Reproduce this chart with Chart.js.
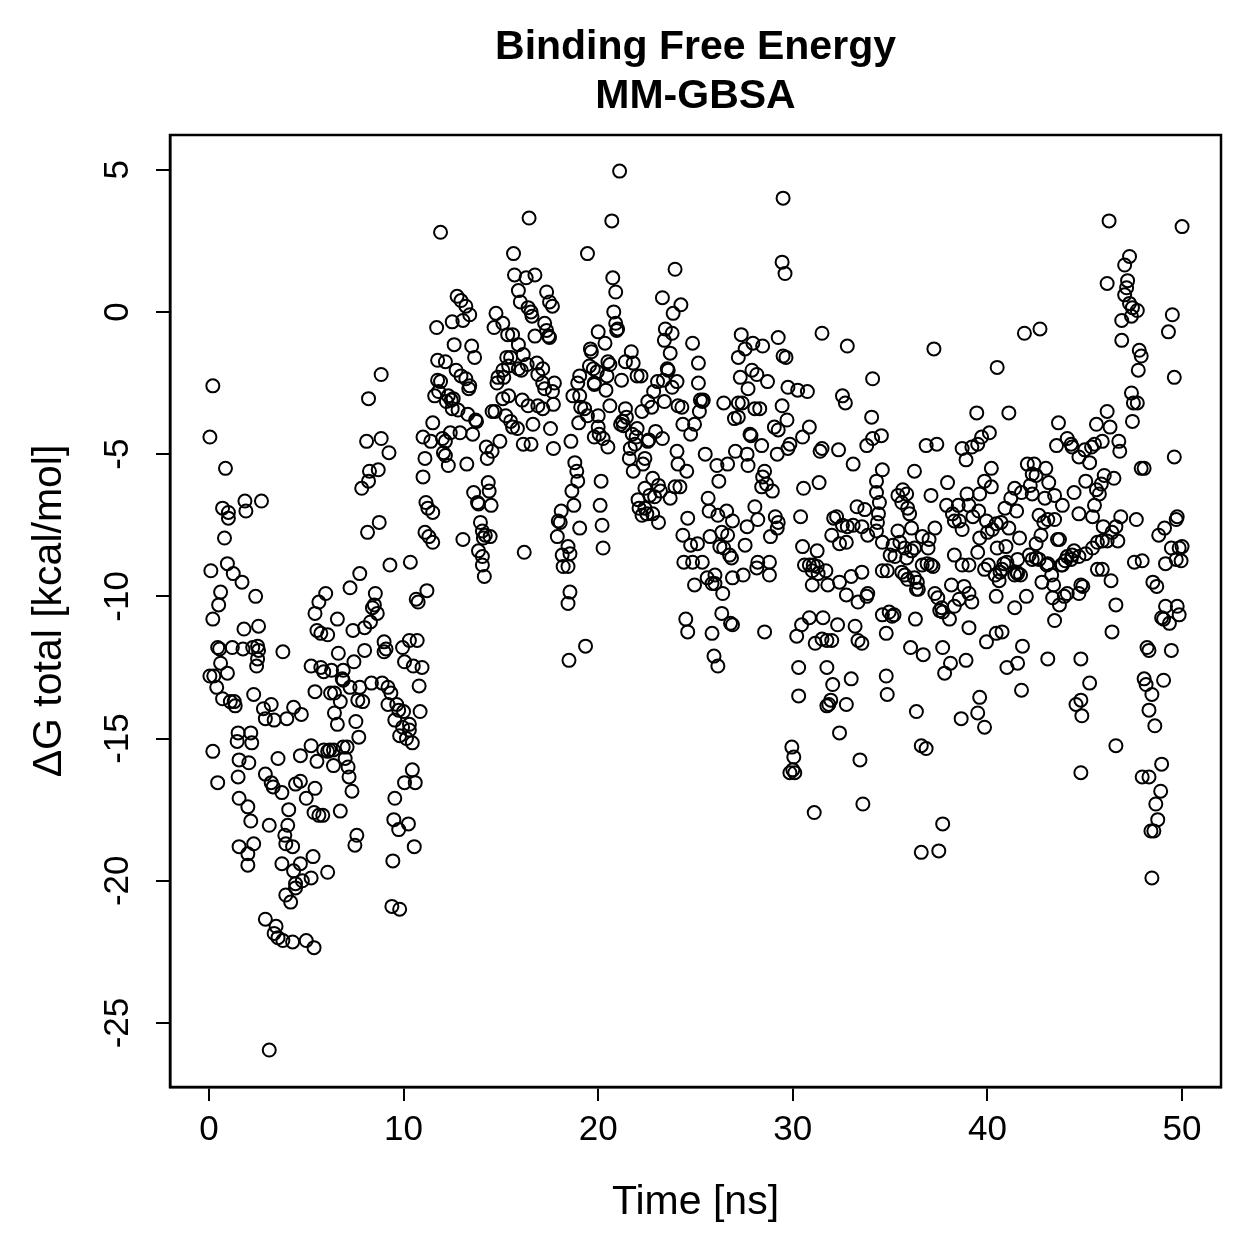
<!DOCTYPE html>
<html>
<head>
<meta charset="utf-8">
<script src="https://cdn.jsdelivr.net/npm/chart.js@4.4.0/dist/chart.umd.min.js"></script>
<style>
  html, body { margin: 0; padding: 0; background: #fff; }
  #wrap { width: 1259px; height: 1259px; }
</style>
</head>
<body>
<div id="wrap"><canvas id="chart" width="1259" height="1259"></canvas></div>
<script>
// axis ticks
const xTicks = [0, 10, 20, 30, 40, 50];
const yTicks = [5, 0, -5, -10, -15, -20, -25];

// [time ns, dG total kcal/mol], grouped by time window
const pts0to10 = [
  [0.2,-2.6],[0.05,-4.4],[0.85,-5.5],[0.7,-6.9],[1.0,-7.05],[1.0,-7.25],[1.85,-6.65],[1.9,-7.0],[2.7,-6.65],[0.8,-7.95],
  [0.1,-9.1],[0.95,-8.85],[1.25,-9.2],[1.7,-9.5],[2.4,-10.0],[0.6,-9.85],[0.5,-10.3],[0.2,-10.8],[1.8,-11.15],[2.55,-11.05],
  [0.45,-11.8],[0.55,-11.85],[1.2,-11.8],[1.75,-11.85],[2.25,-11.8],[2.5,-11.75],[2.55,-11.9],[3.8,-11.95],[0.6,-12.35],[0.95,-12.7],
  [2.5,-12.2],[2.45,-12.45],[0.05,-12.8],[0.25,-12.8],[0.4,-13.2],[2.3,-13.45],[0.7,-13.6],[1.3,-13.7],[1.35,-13.85],[1.1,-13.7],
  [3.2,-13.8],[2.8,-13.95],[2.9,-14.3],[3.35,-14.35],[4.0,-14.3],[4.35,-13.9],[4.75,-14.15],[1.5,-14.8],[1.45,-15.1],[2.15,-14.8],
  [2.2,-15.15],[0.2,-15.45],[3.55,-15.7],[4.7,-15.6],[1.55,-15.75],[2.05,-15.85],[0.45,-16.55],[1.5,-16.35],[2.9,-16.25],[3.2,-16.55],
  [3.3,-16.7],[3.75,-16.9],[4.45,-16.6],[4.7,-16.5],[5.0,-17.1],[1.55,-17.1],[2.0,-17.4],[2.15,-17.9],[4.1,-17.5],[4.05,-18.05],
  [3.95,-18.7],[4.3,-18.8],[3.1,-18.05],[1.55,-18.8],[2.0,-19.05],[2.3,-18.7],[3.9,-18.4],[3.75,-19.4],[4.7,-19.4],[4.35,-19.65],
  [4.45,-20.1],[4.8,-20.0],[5.25,-19.9],[2.0,-19.45],[3.95,-20.5],[4.2,-20.75],[4.45,-20.25],[2.9,-21.35],[3.45,-21.6],[3.35,-21.85],
  [3.55,-22.0],[3.8,-22.1],[4.3,-22.15],[5.0,-22.1],[3.1,-25.95],
  [9.3,-8.9],[7.75,-9.2],[7.25,-9.7],[6.0,-9.9],[5.65,-10.2],[5.45,-10.6],[6.6,-10.8],[8.55,-9.9],[8.5,-10.3],[8.4,-10.4],
  [8.65,-10.6],[8.3,-10.9],[8.0,-11.1],[7.4,-11.2],[5.55,-11.2],[5.75,-11.3],[6.1,-11.35],[9.0,-11.6],[9.1,-11.85],[9.0,-11.95],
  [9.95,-11.8],[6.65,-12.0],[8.0,-11.9],[7.45,-12.3],[5.25,-12.45],[5.75,-12.5],[5.9,-12.65],[6.3,-12.6],[6.9,-12.6],[6.85,-12.9],
  [6.9,-12.95],[7.25,-13.2],[7.75,-13.2],[8.35,-13.05],[8.9,-13.05],[9.2,-13.2],[9.35,-13.4],[5.45,-13.35],[6.25,-13.4],[6.45,-13.4],
  [7.65,-13.65],[7.9,-13.7],[6.75,-13.7],[9.2,-13.8],[9.65,-13.8],[9.75,-14.0],[6.45,-14.1],[6.6,-14.5],[7.55,-14.4],[9.55,-14.35],
  [9.95,-14.6],[9.8,-14.9],[7.7,-14.95],[5.25,-15.25],[5.55,-15.8],[5.9,-15.4],[6.2,-15.4],[6.4,-15.4],[6.1,-15.45],[6.9,-15.3],
  [7.1,-15.3],[6.4,-15.95],[7.0,-15.7],[7.15,-16.0],[7.2,-16.35],[7.35,-16.85],[9.55,-17.1],[5.45,-16.75],[5.4,-17.6],[5.65,-17.7],
  [5.85,-17.7],[6.75,-17.55],[9.5,-17.85],[9.75,-18.2],[7.6,-18.4],[7.5,-18.75],[5.35,-19.15],[9.45,-19.3],[6.1,-19.7],[9.4,-20.9],
  [9.8,-21.0],[5.4,-22.35],
  [8.85,-2.2],[8.2,-3.05],[8.1,-4.55],[8.85,-4.45],[9.25,-4.95],[8.7,-5.55],[8.25,-5.6],[8.2,-5.95],[7.85,-6.2],[8.75,-7.4],[8.15,-7.75]
];

const pts10to20 = [
  [10.35,-8.8],[11.2,-9.8],[10.65,-10.1],[10.75,-10.2],[10.3,-11.55],[10.7,-11.55],[10.05,-12.3],[10.5,-12.45],[10.95,-12.5],[10.8,-13.15],
  [10.0,-14.05],[10.85,-14.05],[10.3,-14.5],[10.3,-14.7],[10.15,-15.0],[10.45,-15.15],[10.45,-16.1],[10.05,-16.55],[10.6,-16.55],[10.25,-18.0],
  [10.55,-18.8],
  [16.45,3.3],[11.9,2.8],[15.65,2.05],[15.7,1.3],[16.3,1.2],[16.75,1.3],[15.9,0.75],[16.0,0.35],[17.35,0.7],[17.5,0.35],
  [17.65,0.2],[16.4,0.15],[16.55,0.0],[16.6,-0.15],[17.25,-0.4],[17.35,-0.65],[17.45,-0.85],[17.5,-0.9],[16.75,-0.85],[12.75,0.55],
  [12.95,0.4],[13.2,0.2],[13.4,-0.1],[13.05,-0.3],[12.5,-0.35],[11.7,-0.55],[14.75,-0.05],[15.1,-0.4],[14.65,-0.55],[15.35,-0.8],
  [15.6,-0.8],[12.6,-1.15],[13.5,-1.2],[13.65,-1.6],[15.9,-1.15],[16.15,-1.5],[11.75,-1.7],[12.15,-1.75],[15.3,-1.6],[15.5,-1.6],
  [15.4,-1.9],[16.85,-1.8],[17.15,-2.0],[16.9,-2.2],[12.7,-2.05],[12.95,-2.25],[13.2,-2.35],[13.4,-2.6],[13.35,-2.7],[11.75,-2.4],
  [11.9,-2.45],[11.6,-2.95],[11.8,-2.8],[15.1,-2.05],[14.85,-2.3],[14.8,-2.5],[15.15,-2.3],[15.9,-2.0],[16.05,-2.05],[16.35,-1.85],
  [17.15,-2.5],[17.25,-2.7],[17.75,-2.5],[17.65,-2.8],[12.3,-2.95],[12.45,-3.1],[12.55,-3.05],[12.2,-3.15],[12.5,-3.4],[12.8,-3.45],
  [13.3,-3.6],[13.7,-3.8],[15.1,-3.05],[15.4,-2.95],[16.1,-3.1],[16.4,-3.3],[16.9,-3.3],[17.15,-3.4],[17.7,-3.25],[14.55,-3.5],
  [14.7,-3.5],[15.25,-3.65],[15.5,-3.85],[15.6,-4.05],[15.85,-4.1],[16.65,-3.95],[17.55,-4.1],[11.5,-3.9],[11.0,-4.4],[11.4,-4.55],
  [12.0,-4.45],[12.15,-4.55],[12.4,-4.25],[12.9,-4.25],[13.55,-4.3],[13.75,-3.85],[12.05,-4.95],[12.15,-5.05],[12.3,-5.4],[13.25,-5.35],
  [11.1,-5.15],[14.25,-4.75],[14.55,-4.9],[14.95,-4.55],[14.3,-5.15],[16.15,-4.65],[16.55,-4.65],[17.7,-4.8],[11.0,-5.8],[13.6,-6.35],
  [13.8,-6.7],[13.85,-6.75],[14.35,-6.0],[14.4,-6.3],[14.5,-6.8],[11.15,-6.7],[11.25,-6.9],[11.5,-7.05],[18.1,-7.0],[17.95,-7.35],
  [18.05,-7.4],[17.9,-7.9],[11.1,-7.75],[11.3,-7.9],[11.5,-8.1],[13.05,-8.0],[13.95,-7.4],[14.05,-7.7],[14.2,-7.85],[14.45,-7.9],
  [14.1,-7.95],[13.85,-8.4],[14.05,-8.6],[14.05,-8.9],[14.15,-9.3],[16.2,-8.45],[18.15,-8.55],[18.2,-8.95],
  [19.45,2.05],[19.6,-1.3],[19.65,-1.4],[19.55,-1.9],[19.75,-2.0],[19.95,-2.1],[19.8,-2.5],[19.05,-2.25],[18.95,-2.5],[18.7,-2.95],
  [19.05,-2.95],[19.1,-3.35],[19.8,-2.55],[19.3,-3.4],[19.45,-3.65],[19.0,-3.9],[19.8,-4.4],[18.6,-4.55],[18.8,-5.3],[18.9,-5.6],
  [18.95,-5.95],[18.65,-6.3],[18.75,-6.8],[19.05,-7.6],[18.45,-8.25],[18.55,-8.5],[18.45,-8.95],[18.55,-9.85],[18.45,-10.25],[19.35,-11.75],
  [18.5,-12.25]
];

const pts20to30 = [
  [21.1,4.95],[20.7,3.2],[23.95,1.5],[20.75,1.2],[20.9,0.7],[23.3,0.5],[23.85,-0.05],[24.25,0.25],[20.8,0.0],[20.9,-0.4],
  [20.95,-0.65],[21.0,-0.6],[20.0,-0.7],[20.35,-1.1],[23.45,-0.6],[23.8,-0.75],[23.4,-1.0],[23.7,-1.45],[24.85,-1.1],[25.15,-1.8],
  [25.15,-2.5],[21.7,-1.4],[21.4,-1.75],[21.8,-1.8],[20.5,-1.75],[20.6,-1.85],[20.45,-2.25],[21.2,-2.4],[22.0,-2.25],[22.2,-2.25],
  [20.4,-2.75],[23.35,-2.4],[23.6,-2.05],[23.55,-2.0],[24.05,-2.45],[23.8,-2.65],[23.05,-2.45],[22.85,-2.8],[22.75,-3.35],[22.55,-3.15],
  [23.4,-3.15],[25.25,-3.1],[25.35,-3.15],[25.4,-3.1],[25.2,-3.5],[24.1,-3.3],[24.3,-3.35],[20.0,-3.65],[20.6,-3.3],[21.4,-3.4],
  [21.25,-3.85],[21.3,-4.0],[21.15,-3.95],[21.45,-3.7],[22.25,-3.5],[22.0,-4.1],[21.75,-4.3],[24.35,-3.95],[24.95,-3.95],[24.75,-4.3],
  [20.0,-4.05],[20.05,-4.3],[20.25,-4.45],[20.5,-4.75],[22.6,-4.5],[22.95,-4.2],[23.3,-4.45],[22.55,-4.55],[21.95,-4.4],[21.65,-4.8],
  [21.9,-4.65],[21.6,-5.15],[21.8,-5.6],[22.3,-5.35],[22.4,-5.15],[24.05,-4.9],[24.1,-5.35],[24.55,-5.6],[25.5,-5.0],[20.15,-5.95],
  [20.1,-6.8],[20.2,-7.5],[20.25,-8.3],[22.8,-5.85],[23.1,-6.1],[23.2,-6.3],[22.4,-6.2],[22.65,-6.45],[22.9,-6.5],[22.05,-6.6],
  [23.7,-6.55],[23.95,-6.15],[24.2,-6.15],[22.1,-6.9],[22.4,-6.9],[22.5,-7.1],[22.25,-7.15],[22.8,-7.1],[23.1,-7.4],[24.6,-7.25],
  [24.35,-7.85],[24.75,-8.2],[25.1,-8.15],[25.65,-6.55],[25.7,-7.0],[25.75,-7.9],[24.4,-8.8],[24.85,-8.8],[25.35,-8.8],[24.95,-9.6],
  [25.6,-9.35],[25.85,-9.55],[24.5,-10.8],[24.6,-11.25],[25.85,-11.3],[25.95,-12.1],[26.15,-12.45],
  [29.5,4.0],[29.45,1.75],[29.6,1.35],[27.35,-0.8],[27.55,-1.3],[27.2,-1.6],[27.95,-1.1],[28.45,-1.2],[29.25,-0.9],[29.5,-1.55],
  [29.65,-1.6],[27.3,-2.3],[27.9,-2.05],[28.15,-2.2],[28.7,-2.45],[27.7,-2.7],[29.75,-2.65],[26.45,-3.2],[27.2,-3.2],[27.4,-3.2],
  [28.05,-3.4],[28.3,-3.4],[29.45,-3.3],[27.0,-3.75],[27.2,-3.7],[29.05,-4.05],[29.25,-4.15],[29.7,-3.8],[27.8,-4.3],[27.85,-4.35],
  [29.85,-4.65],[29.75,-4.8],[27.05,-4.9],[27.65,-5.0],[28.4,-4.7],[29.2,-5.0],[27.7,-5.4],[26.65,-5.35],[26.1,-5.4],[26.2,-5.95],
  [28.55,-5.6],[28.45,-5.8],[28.65,-6.05],[28.4,-6.15],[28.95,-6.3],[28.05,-6.85],[26.6,-7.0],[26.9,-7.35],[27.65,-7.55],[28.2,-7.3],
  [29.1,-7.2],[29.25,-7.4],[29.2,-7.6],[28.85,-7.9],[26.15,-7.15],[26.35,-7.75],[26.65,-7.85],[26.25,-8.25],[26.45,-8.3],[26.75,-8.55],
  [26.85,-8.65],[27.55,-8.2],[28.2,-8.8],[28.8,-8.8],[28.15,-9.0],[28.8,-9.25],[27.45,-9.25],[26.9,-9.35],[26.0,-9.25],[26.0,-9.55],
  [26.4,-9.9],[26.35,-10.6],[26.8,-10.95],[26.9,-11.0],[28.55,-11.25],[29.95,-15.3],[29.85,-16.2]
];

const pts30to40 = [
  [31.5,-0.75],[32.8,-1.2],[30.25,-2.75],[30.75,-2.8],[32.55,-2.95],[32.7,-3.2],[34.1,-2.35],[30.85,-4.05],[30.5,-4.4],[31.5,-4.8],
  [31.4,-4.9],[32.35,-4.85],[34.05,-3.7],[34.1,-4.45],[33.8,-4.7],[33.1,-5.35],[30.55,-6.2],[31.35,-6.0],[30.4,-7.2],[33.3,-6.85],
  [33.7,-6.95],[32.1,-7.25],[32.25,-7.2],[32.55,-7.5],[32.8,-7.55],[33.1,-7.5],[33.55,-7.55],[33.85,-7.85],[32.0,-7.85],[32.4,-8.15],
  [32.75,-8.1],[30.5,-8.25],[31.25,-8.4],[30.6,-8.9],[30.85,-8.9],[31.05,-8.9],[31.0,-9.1],[31.25,-8.95],[31.7,-9.1],[31.3,-9.2],
  [33.55,-9.15],[33.0,-9.3],[32.4,-9.5],[31.8,-9.6],[32.75,-9.95],[31.0,-9.6],[33.35,-10.2],[33.8,-10.0],[33.85,-9.9],[30.45,-11.0],
  [30.85,-10.75],[31.55,-10.75],[32.3,-11.0],[30.2,-11.4],[31.15,-11.65],[31.5,-11.5],[31.75,-11.55],[32.0,-11.55],[33.2,-11.05],[33.35,-11.55],
  [33.55,-11.65],
  [37.25,-1.3],[39.45,-3.55],[34.55,-4.35],[36.85,-4.7],[37.4,-4.65],[38.7,-4.8],[39.2,-4.75],[39.5,-4.65],[38.9,-5.2],[34.6,-5.55],
  [34.3,-5.95],[34.3,-6.35],[34.45,-6.7],[34.4,-7.1],[34.35,-7.4],[36.25,-5.6],[37.95,-6.0],[37.1,-6.45],[35.4,-6.45],[35.65,-6.25],
  [35.85,-6.4],[35.6,-6.7],[35.9,-6.9],[36.0,-7.1],[37.9,-6.8],[38.2,-7.1],[38.5,-6.8],[38.95,-6.4],[39.05,-6.8],[39.25,-7.2],
  [38.3,-7.35],[38.55,-7.35],[38.7,-7.65],[39.6,-6.4],[39.55,-7.0],[34.3,-7.7],[34.6,-8.1],[35.4,-7.7],[36.1,-7.6],[36.25,-8.3],
  [36.1,-8.4],[36.65,-7.9],[37.0,-8.0],[37.3,-7.6],[36.95,-8.3],[35.15,-8.2],[35.5,-8.1],[35.75,-8.3],[35.0,-8.55],[35.25,-8.6],
  [35.85,-8.65],[38.3,-8.55],[38.7,-8.9],[39.05,-8.9],[39.5,-8.45],[36.65,-8.9],[36.9,-8.85],[37.1,-8.9],[37.2,-8.95],[34.6,-9.1],
  [34.85,-9.1],[35.6,-9.15],[35.75,-9.25],[35.9,-9.4],[36.25,-9.35],[36.4,-9.5],[36.45,-9.75],[36.35,-9.75],[37.3,-9.9],[37.45,-10.05],
  [37.65,-10.4],[37.55,-10.5],[37.7,-10.55],[38.05,-10.8],[38.15,-9.6],[38.55,-10.1],[38.8,-9.65],[39.2,-10.2],[39.05,-9.9],[38.3,-10.35],
  [34.6,-10.65],[34.95,-10.55],[35.2,-10.65],[35.1,-10.7],[36.3,-10.8],[34.8,-11.3],[39.05,-11.1],[36.05,-11.8],[36.7,-12.05],[37.7,-11.8],
  [38.1,-12.35],[37.8,-12.7],[38.9,-12.25],[34.8,-12.8],[34.85,-13.45],[39.6,-13.55],[39.5,-14.1],[36.35,-14.05],[38.65,-14.3],[36.6,-15.25],
  [36.85,-15.35],[37.7,-18.0],[36.6,-19.0],[37.5,-18.95],[33.6,-17.3],[30.3,-13.5],[30.3,-12.5],[31.75,-12.5],[31.75,-13.85],[31.85,-13.8],
  [31.95,-13.65],[32.75,-13.8],[33.0,-12.9],[32.05,-13.1],[32.4,-14.8],[30.05,-15.65],[30.0,-16.1],[30.1,-16.2],[33.45,-15.75],[31.1,-17.6],
  [39.7,-4.4],[39.85,-5.95],[39.95,-7.35],[39.6,-7.95],[39.85,-9.05],[39.95,-11.6],[39.85,-14.6]
];

const pts40to50 = [
  [41.9,-0.75],[42.7,-0.6],[40.5,-1.95],[41.1,-3.55],[43.65,-3.9],[43.55,-4.7],[44.1,-4.45],[44.3,-4.65],[44.35,-4.75],[40.1,-4.25],
  [40.2,-5.5],[40.2,-6.15],[42.05,-5.35],[42.4,-5.35],[43.0,-5.5],[42.3,-5.7],[42.5,-5.75],[43.15,-6.0],[43.45,-6.45],[43.85,-6.8],
  [44.45,-6.35],[41.4,-6.2],[41.75,-6.35],[42.2,-6.1],[42.3,-6.4],[42.95,-6.55],[40.9,-6.9],[41.2,-6.55],[41.5,-7.0],[40.25,-7.65],
  [40.0,-7.75],[40.45,-7.45],[41.1,-7.6],[41.65,-7.95],[40.7,-7.4],[42.65,-7.15],[42.9,-7.4],[43.1,-7.3],[43.45,-7.3],[42.75,-7.85],
  [42.5,-8.15],[42.15,-8.55],[42.3,-8.7],[43.6,-8.0],[43.7,-8.0],[40.5,-8.3],[40.95,-8.25],[40.85,-8.85],[41.5,-9.15],[41.4,-9.25],
  [41.55,-8.7],[42.5,-8.65],[42.65,-8.7],[43.05,-8.9],[43.1,-8.85],[42.8,-9.5],[43.3,-9.25],[43.4,-9.6],[43.35,-10.05],[43.7,-10.3],
  [43.8,-8.9],[44.0,-8.75],[44.1,-8.6],[44.35,-8.55],[44.3,-8.7],[43.85,-8.9],[44.45,-8.4],[44.1,-9.9],[43.95,-10.0],[40.05,-8.9],
  [40.4,-9.25],[40.75,-9.05],[40.65,-9.15],[41.0,-8.8],[41.55,-9.2],[41.7,-9.25],[40.45,-10.0],[40.6,-9.45],[42.0,-10.0],[41.4,-10.4],
  [43.45,-10.85],[40.45,-11.3],[40.75,-11.25],[41.8,-11.75],[41.0,-12.5],[41.55,-12.35],[43.1,-12.2],[44.55,-13.8],[41.75,-13.3],
  [46.25,3.2],[50.0,3.0],[47.3,1.95],[47.05,1.65],[46.15,1.0],[47.2,1.1],[47.15,0.85],[47.05,0.6],[47.3,0.3],[47.45,0.15],
  [47.7,0.05],[47.4,-0.15],[46.9,-0.3],[49.5,-0.1],[49.3,-0.7],[46.9,-1.0],[47.8,-1.35],[47.9,-1.55],[47.75,-2.05],[49.6,-2.3],
  [47.4,-2.85],[47.5,-3.2],[47.7,-3.2],[47.45,-3.85],[46.15,-3.5],[45.6,-3.95],[46.3,-4.05],[45.5,-4.65],[45.9,-4.55],[45.35,-4.75],
  [45.0,-4.85],[44.7,-5.1],[46.75,-4.55],[46.8,-4.9],[49.6,-5.1],[47.9,-5.5],[48.05,-5.5],[45.25,-5.3],[46.0,-5.75],[46.5,-5.85],
  [45.05,-5.95],[45.85,-6.05],[45.6,-6.25],[45.75,-6.4],[45.5,-6.8],[45.4,-7.2],[44.7,-7.1],[46.85,-7.2],[46.6,-7.55],[46.4,-7.75],
  [45.95,-7.55],[45.9,-8.05],[46.15,-8.05],[46.7,-8.05],[45.65,-8.1],[45.4,-8.3],[45.05,-8.5],[44.7,-8.6],[47.65,-7.3],[49.75,-7.2],
  [49.7,-7.3],[49.1,-7.6],[48.8,-7.85],[49.45,-8.3],[49.85,-8.3],[50.0,-8.25],[49.15,-8.85],[49.7,-8.7],[49.95,-8.75],[47.55,-8.8],
  [47.95,-8.75],[45.65,-9.05],[45.9,-9.05],[46.35,-9.45],[44.8,-9.6],[44.9,-9.65],[44.7,-9.9],[48.5,-9.5],[48.7,-9.65],[49.15,-10.35],
  [48.95,-10.75],[49.05,-10.8],[49.35,-10.95],[49.75,-10.35],[49.85,-10.65],[46.6,-10.3],[46.4,-11.25],[48.2,-11.8],[48.3,-11.9],[49.45,-11.9],
  [44.8,-12.2],[45.25,-13.05],[48.05,-12.9],[48.15,-13.1],[48.45,-13.45],[49.05,-12.95],[44.8,-13.65],[44.85,-14.2],[48.3,-14.0],[48.6,-14.55],
  [46.6,-15.25],[44.8,-16.2],[48.95,-15.9],[47.95,-16.35],[48.3,-16.35],[48.9,-16.85],[48.65,-17.3],[48.75,-17.85],[48.55,-18.25],[48.4,-18.25],
  [48.45,-19.9]
];

const allPoints = [].concat(pts0to10, pts10to20, pts20to30, pts30to40, pts40to50)
  .map(p => ({ x: p[0], y: p[1] }));

const FONT = '"Liberation Sans", Arial, Helvetica, sans-serif';

// R-style text: titles, rotated y labels and box
const rText = {
  id: 'rText',
  afterDraw(chart) {
    const ctx = chart.ctx;
    const a = chart.chartArea;
    const ys = chart.scales.y;
    const cx = (a.left + a.right) / 2;
    ctx.save();
    ctx.strokeStyle = '#000';
    ctx.lineWidth = 2.5;
    ctx.strokeRect(a.left, a.top, a.right - a.left, a.bottom - a.top);

    ctx.fillStyle = '#000';
    ctx.textAlign = 'center';
    ctx.textBaseline = 'middle';
    ctx.font = 'bold 41px ' + FONT;
    ctx.fillText('Binding Free Energy', cx, 48);
    ctx.fillText('MM-GBSA', cx, 97);

    ctx.font = '41px ' + FONT;
    ctx.fillText('Time [ns]', cx, 1203);

    ctx.save();
    ctx.translate(50, (a.top + a.bottom) / 2);
    ctx.rotate(-Math.PI / 2);
    ctx.fillText('\u0394G total [kcal/mol]', 0, 0);
    ctx.restore();

    ctx.font = '35px ' + FONT;
    yTicks.forEach(v => {
      const py = ys.getPixelForValue(v);
      ctx.save();
      ctx.translate(118, py);
      ctx.rotate(-Math.PI / 2);
      ctx.fillText(String(v), 0, 0);
      ctx.restore();
    });
    ctx.restore();
  }
};

new Chart(document.getElementById('chart'), {
  type: 'scatter',
  data: {
    datasets: [{
      data: allPoints,
      pointStyle: 'circle',
      pointRadius: 6.5,
      borderColor: '#000',
      backgroundColor: 'rgba(0,0,0,0)',
      borderWidth: 2
    }]
  },
  options: {
    responsive: false,
    animation: false,
    devicePixelRatio: 1,
    layout: { autoPadding: false, padding: { left: 0, top: 135, right: 38, bottom: 0 } },
    plugins: { legend: { display: false }, tooltip: { enabled: false }, title: { display: false } },
    scales: {
      x: {
        type: 'linear',
        min: -2,
        max: 52,
        afterBuildTicks: s => { s.ticks = xTicks.map(v => ({ value: v })); },
        afterFit: s => { s.height = 172; },
        grid: { drawOnChartArea: false, drawTicks: true, tickLength: 14, color: '#000', lineWidth: 2 },
        border: { display: true, color: '#000', width: 2.5 },
        ticks: { color: '#000', font: { family: FONT, size: 35 }, padding: 8, maxRotation: 0, autoSkip: false }
      },
      y: {
        type: 'linear',
        min: -27.25,
        max: 6.22,
        afterBuildTicks: s => { s.ticks = yTicks.map(v => ({ value: v })); },
        afterFit: s => { s.width = 170; },
        grid: { drawOnChartArea: false, drawTicks: true, tickLength: 14, color: '#000', lineWidth: 2 },
        border: { display: true, color: '#000', width: 2.5 },
        ticks: { display: false }
      }
    }
  },
  plugins: [rText]
});
</script>
</body>
</html>
